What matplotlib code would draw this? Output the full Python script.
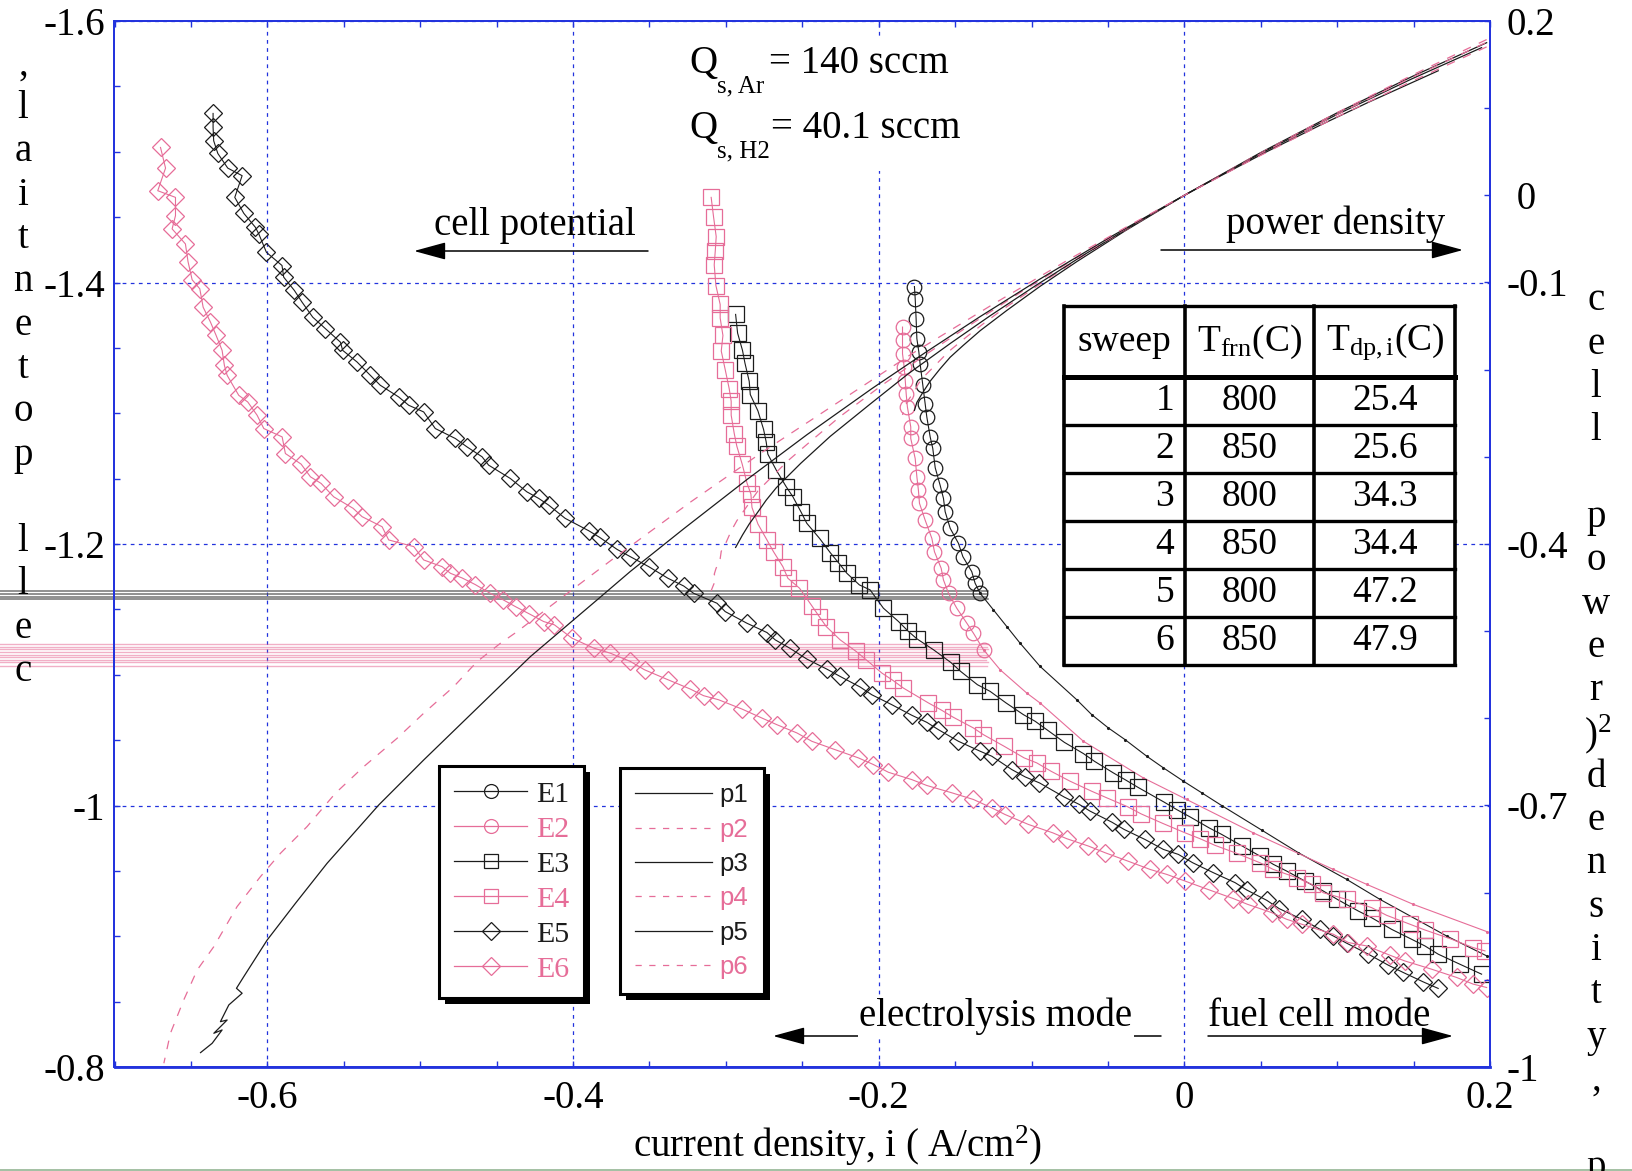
import numpy as np
import matplotlib
matplotlib.use('Agg')
import matplotlib.pyplot as plt
from matplotlib.lines import Line2D
from matplotlib.patches import Rectangle
from matplotlib.transforms import IdentityTransform

plt.rcParams['font.family'] = ['Liberation Serif', 'DejaVu Serif']
plt.rcParams['mathtext.fontset'] = 'custom'
plt.rcParams['mathtext.rm'] = 'Liberation Serif'
plt.rcParams['mathtext.it'] = 'Liberation Serif:italic'
plt.rcParams['mathtext.bf'] = 'Liberation Serif:bold'

# ---------------- data ----------------
x_ticks = [-0.6, -0.4, -0.2, 0.0, 0.2]
x_tick_labels = ['-0.6', '-0.4', '-0.2', '0', '0.2']
left_ticks = [-1.6, -1.4, -1.2, -1.0, -0.8]
left_tick_labels = ['-1.6', '-1.4', '-1.2', '-1', '-0.8']
right_ticks = [0.2, 0.0, -0.1, -0.4, -0.7, -1.0]
right_tick_labels = ['0.2', ' 0', '-0.1', '-0.4', '-0.7', '-1']

e1_i = [-0.1766, -0.1761, -0.1755, -0.1750, -0.1737, -0.1729, -0.1711, -0.1696, -0.1685, -0.1663, -0.1646,
        -0.1630, -0.1598, -0.1576, -0.1565, -0.1532, -0.1478, -0.1449, -0.1391, -0.1369, -0.1336]
e1_v = [-1.3969, -1.3876, -1.3723, -1.3570, -1.3468, -1.3379, -1.3214, -1.3074, -1.2972, -1.2819, -1.2731,
        -1.2583, -1.2450, -1.2349, -1.2247, -1.2120, -1.2005, -1.1903, -1.1789, -1.1700, -1.1623]
e1_tail_i = [-0.1336, -0.1249, -0.1162, -0.1075, -0.0944, -0.0704, -0.0606, -0.0497, -0.0388, -0.0246, -0.0137,
             -0.0006, 0.0114, 0.0244, 0.0506, 0.0746, 0.1062, 0.1280, 0.1716, 0.1978]
e1_tail_v = [-1.1623, -1.1496, -1.1369, -1.1242, -1.1064, -1.0809, -1.0695, -1.0593, -1.0504, -1.0377, -1.0288,
             -1.0186, -1.0097, -1.0000, -0.9812, -0.9639, -0.9435, -0.9282, -0.9002, -0.8850]

e2_i = [-0.1844, -0.1844, -0.1844, -0.1833, -0.1826, -0.1820, -0.1812, -0.1790, -0.1790, -0.1761, -0.1750, -0.1740,
        -0.1733, -0.1696, -0.1652, -0.1635, -0.1591, -0.1576, -0.1543, -0.1489, -0.1423, -0.1380, -0.1314]
e2_v = [-1.3659, -1.3557, -1.3456, -1.3353, -1.3250, -1.3150, -1.3048, -1.2895, -1.2807, -1.2654, -1.2514, -1.2412,
        -1.2311, -1.2183, -1.2043, -1.1941, -1.1814, -1.1725, -1.1623, -1.1509, -1.1394, -1.1318, -1.1191]
e2_tail_i = [-0.1314, -0.1205, -0.1031, -0.0944, -0.0660, -0.0268, 0.0015, 0.0451, 0.0975, 0.1193, 0.1498, 0.1978]
e2_tail_v = [-1.1191, -1.1038, -1.0860, -1.0784, -1.0491, -1.0211, -1.0046, -0.9791, -0.9511, -0.9397, -0.9244, -0.9036]

e3_i = [-0.2936, -0.2923, -0.2891, -0.2875, -0.2847, -0.2840, -0.2790, -0.2753, -0.2736, -0.2725, -0.2670, -0.2605,
        -0.2561, -0.2509, -0.2470, -0.2387, -0.2317, -0.2263, -0.2208, -0.2126, -0.2056,
        -0.1969, -0.1870, -0.1805, -0.1750, -0.1641, -0.1528, -0.1463, -0.1354, -0.1271, -0.1166, -0.1053, -0.0976,
        -0.0894, -0.0785, -0.0660, -0.0588, -0.0464, -0.0381, -0.0305, -0.0131, -0.0050, 0.0037, 0.0162, 0.0244,
        0.0379, 0.0495, 0.0582, 0.0669, 0.0789, 0.0909, 0.1001, 0.1138, 0.1225, 0.1356, 0.1487, 0.1574, 0.1661,
        0.1803, 0.1945]
e3_v = [-1.3756, -1.3613, -1.3481, -1.3384, -1.3244, -1.3143, -1.3018, -1.2876, -1.2781, -1.2687, -1.2565, -1.2438,
        -1.2361, -1.2247, -1.2158, -1.2043, -1.1934, -1.1857, -1.1776, -1.1687, -1.1649,
        -1.1509, -1.1407, -1.1331, -1.1275, -1.1191, -1.1094, -1.1025, -1.0924, -1.0873, -1.0784, -1.0695, -1.0644,
        -1.0575, -1.0483, -1.0397, -1.0338, -1.0249, -1.0193, -1.0140, -1.0025, -0.9969, -0.9913, -0.9829, -0.9779,
        -0.9690, -0.9613, -0.9550, -0.9499, -0.9422, -0.9346, -0.9282, -0.9193, -0.9142, -0.9053, -0.8977, -0.8926,
        -0.8863, -0.8786, -0.8710]

e4_i = [-0.3096, -0.3080, -0.3063, -0.3069, -0.3076, -0.3065, -0.3037, -0.3037, -0.3019, -0.3030, -0.3004, -0.2978,
        -0.2965, -0.2965, -0.2945, -0.2928, -0.2893, -0.2862, -0.2836, -0.2829, -0.2790, -0.2731, -0.2688, -0.2627,
        -0.2594, -0.2518,
        -0.2437, -0.2389, -0.2343, -0.2252, -0.2147, -0.2082, -0.1979, -0.1907, -0.1838, -0.1674, -0.1587, -0.1515,
        -0.1380, -0.1315, -0.1179, -0.1048, -0.0966,
        -0.0872, -0.0748, -0.0606, -0.0508, -0.0370, -0.0283, -0.0141, 0.0005, 0.0103, 0.0201, 0.0343, 0.0495,
        0.0582, 0.0735, 0.0833, 0.0909, 0.1062, 0.1225, 0.1324, 0.1476, 0.1574, 0.1738, 0.1890, 0.1967]
e4_v = [-1.4651, -1.4499, -1.4351, -1.4244, -1.4135, -1.3977, -1.3832, -1.3728, -1.3595, -1.3476, -1.3333, -1.3188,
        -1.3092, -1.2985, -1.2845, -1.2748, -1.2611, -1.2468, -1.2382, -1.2280, -1.2153, -1.2031, -1.1941, -1.1827,
        -1.1738, -1.1662,
        -1.1527, -1.1445, -1.1369, -1.1267, -1.1178, -1.1115, -1.1013, -1.0957, -1.0898, -1.0784, -1.0728, -1.0677,
        -1.0593, -1.0542, -1.0453, -1.0364, -1.0326,
        -1.0262, -1.0186, -1.0109, -1.0059, -0.9990, -0.9936, -0.9863, -0.9791, -0.9746, -0.9695, -0.9634, -0.9562,
        -0.9511, -0.9448, -0.9397, -0.9333, -0.9282, -0.9219, -0.9160, -0.9092, -0.9048, -0.8982, -0.8913, -0.8888]

e5_i = [-0.6355, -0.6355, -0.6351, -0.6324, -0.6259, -0.6165, -0.6213, -0.6154, -0.6078, -0.6056, -0.6006, -0.5904,
        -0.5893, -0.5823, -0.5773, -0.5703, -0.5620, -0.5522, -0.5507, -0.5413, -0.5326, -0.5261, -0.5141, -0.5075,
        -0.4977, -0.4901, -0.4770, -0.4694, -0.4595, -0.4552, -0.4410, -0.4302, -0.4225, -0.4160, -0.4051,
        -0.3898, -0.3826, -0.3712, -0.3625, -0.3505, -0.3379, -0.3276, -0.3211, -0.3058, -0.3004, -0.2862, -0.2731,
        -0.2677, -0.2583, -0.2470, -0.2339, -0.2252, -0.2121, -0.2045, -0.1914, -0.1783, -0.1685, -0.1609, -0.1478,
        -0.1336, -0.1260,
        -0.1129, -0.1042, -0.0948, -0.0785, -0.0687, -0.0617, -0.0475, -0.0394, -0.0257, -0.0137, -0.0039, 0.0055,
        0.0190, 0.0332, 0.0408, 0.0539, 0.0621, 0.0768, 0.0888, 0.0975, 0.1062, 0.1204, 0.1334, 0.1432, 0.1563, 0.1661]
e5_v = [-1.5293, -1.5186, -1.5084, -1.4987, -1.4875, -1.4817, -1.4651, -1.4529, -1.4422, -1.4372, -1.4231, -1.4130,
        -1.4041, -1.3939, -1.3850, -1.3735, -1.3647, -1.3544, -1.3481, -1.3392, -1.3290, -1.3214, -1.3125, -1.3061,
        -1.3010, -1.2883, -1.2807, -1.2743, -1.2667, -1.2603, -1.2501, -1.2399, -1.2349, -1.2298, -1.2196,
        -1.2102, -1.2051, -1.1959, -1.1903, -1.1827, -1.1738, -1.1679, -1.1623, -1.1547, -1.1483, -1.1394, -1.1323,
        -1.1267, -1.1204, -1.1120, -1.1043, -1.0987, -1.0906, -1.0847, -1.0771, -1.0690, -1.0636, -1.0580, -1.0491,
        -1.0415, -1.0377,
        -1.0275, -1.0219, -1.0173, -1.0064, -1.0008, -0.9957, -0.9873, -0.9817, -0.9740, -0.9664, -0.9626, -0.9562,
        -0.9486, -0.9410, -0.9354, -0.9275, -0.9211, -0.9130, -0.9053, -0.9002, -0.8947, -0.8863, -0.8779, -0.8723,
        -0.8651, -0.8601]

e6_i = [-0.6699, -0.6666, -0.6717, -0.6601, -0.6601, -0.6623, -0.6536, -0.6519, -0.6492, -0.6442, -0.6420, -0.6372,
        -0.6335, -0.6296, -0.6281, -0.6263, -0.6187, -0.6128, -0.6067, -0.6023, -0.5903, -0.5882, -0.5779, -0.5718,
        -0.5648, -0.5566, -0.5439, -0.5380, -0.5249, -0.5206, -0.5042, -0.4977, -0.4857, -0.4802,
        -0.4725, -0.4640, -0.4545, -0.4460, -0.4375, -0.4285,
        -0.4192, -0.4122, -0.4007, -0.3865, -0.3756, -0.3625, -0.3532, -0.3379, -0.3233, -0.3146, -0.3048, -0.2895,
        -0.2764, -0.2666, -0.2535, -0.2437, -0.2285, -0.2132, -0.2034, -0.1936, -0.1783, -0.1685, -0.1521, -0.1380,
        -0.1260,
        -0.1173, -0.1020, -0.0861, -0.0769, -0.0628, -0.0519, -0.0370, -0.0224, -0.0115, 0.0005, 0.0164, 0.0321,
        0.0414, 0.0571, 0.0669, 0.0768, 0.0975, 0.1073, 0.1193, 0.1345, 0.1443, 0.1618, 0.1781, 0.1890, 0.1978]
e6_v = [-1.5033, -1.4875, -1.4702, -1.4651, -1.4511, -1.4410, -1.4295, -1.4160, -1.4021, -1.3952, -1.3811, -1.3697,
        -1.3595, -1.3481, -1.3366, -1.3290, -1.3137, -1.3086, -1.2985, -1.2883, -1.2819, -1.2692, -1.2611, -1.2514,
        -1.2463, -1.2361, -1.2273, -1.2209, -1.2132, -1.2031, -1.1980, -1.1878, -1.1827, -1.1776,
        -1.1740, -1.1690, -1.1625, -1.1575, -1.1520, -1.1465,
        -1.1407, -1.1382, -1.1280, -1.1204, -1.1165, -1.1102, -1.1038, -1.0962, -1.0891, -1.0840, -1.0809, -1.0738,
        -1.0669, -1.0618, -1.0555, -1.0491, -1.0427, -1.0364, -1.0313, -1.0254, -1.0198, -1.0153, -1.0097, -1.0046,
        -0.9982,
        -0.9931, -0.9855, -0.9791, -0.9746, -0.9690, -0.9639, -0.9575, -0.9511, -0.9473, -0.9422, -0.9354, -0.9288,
        -0.9244, -0.9181, -0.9130, -0.9092, -0.9015, -0.8952, -0.8926, -0.8855, -0.8811, -0.8748, -0.8685, -0.8634,
        -0.8608]

p1_i = [0.1978, 0.15, 0.1, 0.05, 0.0, -0.0388, -0.0704, -0.0944, -0.1162, -0.1336, -0.1449, -0.1532, -0.1598,
        -0.1663, -0.1711, -0.1750, -0.1766]
p1_v = [0.1751, 0.1371, 0.0947, 0.0491, 0.0, -0.0408, -0.0761, -0.1044, -0.1321, -0.1553, -0.1725, -0.1857, -0.1990,
        -0.2132, -0.2261, -0.2375, -0.2467]
p2_i = [0.1978, 0.1498, 0.0975, 0.0451, 0.0015, -0.0268, -0.0660, -0.0944, -0.1205, -0.1314, -0.1423, -0.1543,
        -0.1591, -0.1652, -0.1696, -0.1740, -0.1761, -0.1790, -0.1812, -0.1833, -0.1844]
p2_v = [0.1787, 0.1385, 0.0927, 0.0442, 0.0015, -0.0274, -0.0692, -0.1018, -0.1330, -0.1471, -0.1621, -0.1793,
        -0.1880, -0.1989, -0.2066, -0.2160, -0.2228, -0.2308, -0.2364, -0.2448, -0.2519]
p3_i = [0.1945, 0.1487, 0.1001, 0.0495, 0.0037, -0.0305, -0.0660, -0.0976, -0.1271, -0.1528, -0.1805, -0.2056,
        -0.2317, -0.2509, -0.2605, -0.2670, -0.2736, -0.2790, -0.2847, -0.2891, -0.2936]
p3_v = [0.1694, 0.1335, 0.0929, 0.0476, 0.0037, -0.0309, -0.0686, -0.1039, -0.1382, -0.1695, -0.2045, -0.2395,
        -0.2765, -0.3073, -0.3240, -0.3355, -0.3497, -0.3632, -0.3771, -0.3897, -0.4039]
p4_i = [0.1967, 0.1476, 0.0909, 0.0495, 0.0005, -0.0370, -0.0748, -0.1048, -0.1380, -0.1674, -0.1979, -0.2252,
        -0.2437, -0.2594, -0.2688, -0.2790, -0.2862, -0.2928, -0.2965, -0.3004, -0.3030, -0.3037, -0.3065, -0.3076,
        -0.3063, -0.3080, -0.3096]
p4_v = [0.1748, 0.1342, 0.0848, 0.0473, 0.0005, -0.0370, -0.0762, -0.1086, -0.1462, -0.1805, -0.2179, -0.2537,
        -0.2809, -0.3045, -0.3210, -0.3391, -0.3568, -0.3733, -0.3850, -0.4005, -0.4083, -0.4169, -0.4284, -0.4348,
        -0.4396, -0.4466, -0.4536]
p5_i = [0.1661, 0.1204, 0.0888, 0.0539, 0.0190, -0.0039, -0.0475, -0.0948, -0.1336, -0.1685, -0.2045, -0.2470,
        -0.2862, -0.3276, -0.3625, -0.3843, -0.4279, -0.4628, -0.4977, -0.5271, -0.5609, -0.5816, -0.6001, -0.6154,
        -0.6202, -0.6165, -0.6252, -0.6307, -0.6263, -0.6350, -0.6296, -0.6361, -0.6437]
p5_v = [0.1429, 0.1067, 0.0804, 0.0500, 0.0180, -0.0038, -0.0469, -0.0964, -0.1391, -0.1792, -0.2218, -0.2747,
        -0.3261, -0.3826, -0.4315, -0.4642, -0.5292, -0.5885, -0.6478, -0.6994, -0.7663, -0.8122, -0.8543, -0.8963,
        -0.9097, -0.9154, -0.9288, -0.9480, -0.9461, -0.9613, -0.9575, -0.9728, -0.9835]
p6_i = [0.1978, 0.1443, 0.0975, 0.0414, 0.0005, -0.0370, -0.0769, -0.1260, -0.1783, -0.2285, -0.2764, -0.3233,
        -0.3756, -0.4138, -0.4366, -0.4475, -0.4628, -0.4781, -0.4977, -0.5151, -0.5369, -0.5555, -0.5740, -0.5914,
        -0.6045, -0.6198, -0.6350, -0.6459, -0.6547, -0.6634, -0.6677]
p6_v = [0.1703, 0.1271, 0.0879, 0.0383, 0.0005, -0.0354, -0.0749, -0.1258, -0.1818, -0.2397, -0.2949, -0.3521,
        -0.4194, -0.4700, -0.5006, -0.5139, -0.5350, -0.5637, -0.5942, -0.6229, -0.6554, -0.6860, -0.7242, -0.7548,
        -0.7816, -0.8160, -0.8619, -0.8887, -0.9231, -0.9613, -0.9957]

# stray horizontal traces (cell potential levels) running off the left edge
trace_start_i = -0.80
gray_trace_v = [-1.1644, -1.1620, -1.1598, -1.1578]
gray_trace_end_i = [-0.1282, -0.1290, -0.1300, -0.1282]
pink_trace_v = [-1.1237, -1.1216, -1.1196, -1.1176, -1.1153, -1.1135, -1.1115, -1.1094, -1.1069]
pink_trace_end_i = [-0.1285, -0.1290, -0.1282, -0.1295, -0.1285, -0.1290, -0.1300, -0.1285, -0.1290]

sweeps = ['1', '2', '3', '4', '5', '6']
t_frn = ['800', '850', '800', '850', '800', '850']
t_dp = ['25.4', '25.6', '34.3', '34.4', '47.2', '47.9']
e_labels = ['E1', 'E2', 'E3', 'E4', 'E5', 'E6']
p_labels = ['p1', 'p2', 'p3', 'p4', 'p5', 'p6']

# ---------------- styling ----------------
BLACK = '#1c1c1c'
PINK = '#e66d98'
BLUE = '#2233dd'
FS_TICK = 28
FS_TXT = 28

W, H = 1633, 1171
fig = plt.figure(figsize=(W / 100, H / 100), dpi=100)
AL, AR, AB, AT = 114.5, 1490.0, 1067.0, 21.0
ax = fig.add_axes([AL / W, 1 - AB / H, (AR - AL) / W, (AB - AT) / H])
ax2 = ax.twinx()

def axf(px, py):
    return (px - AL) / (AR - AL), (AB - py) / (AB - AT)

ax.set_xlim(-0.7, 0.2)
ax.set_ylim(-0.8, -1.6)
ax2.set_ylim(-1.0, 0.2)
ax.set_axisbelow(True)

# grid
ax.grid(True, which='major', color=BLUE, linestyle=(0, (3, 3.5)), lw=0.9)

# E curves
mk = dict(mfc='none', lw=0.8, mew=0.9)
ax.plot(e1_i, e1_v, color=BLACK, marker='o', ms=10.5, **mk)
ax.plot(e1_tail_i, e1_tail_v, color=BLACK, lw=0.8, marker='.', ms=2.5)
ax.plot(e2_i, e2_v, color=PINK, marker='o', ms=10.5, **mk)
ax.plot(e2_tail_i, e2_tail_v, color=PINK, lw=0.8, marker='.', ms=2.5)
ax.plot(e3_i, e3_v, color=BLACK, marker='s', ms=11, **mk)
ax.plot(e4_i, e4_v, color=PINK, marker='s', ms=11, **mk)
ax.plot(e5_i, e5_v, color=BLACK, marker='D', ms=9.5, **mk)
ax.plot(e6_i, e6_v, color=PINK, marker='D', ms=9.5, **mk)

for v, xe in zip(gray_trace_v, gray_trace_end_i):
    ax.plot([trace_start_i, xe], [v, v], color='#505050', lw=1.1, alpha=0.8, clip_on=False, zorder=1.8)
for v, xe in zip(pink_trace_v, pink_trace_end_i):
    ax.plot([trace_start_i, xe], [v, v], color=PINK, lw=1.0, alpha=0.55, clip_on=False, zorder=1.8)

# white block behind the flow-rate text
x0, y0 = axf(677, 171)
x1, _ = axf(969, 171)
ax.add_patch(Rectangle((x0, y0), x1 - x0, 0.985 - y0, transform=ax.transAxes,
                       facecolor='white', edgecolor='none', zorder=1))

# power density curves
ax2.plot(p1_i, p1_v, color=BLACK, lw=0.9)
ax2.plot(p2_i, p2_v, color=PINK, lw=0.9, dashes=(7, 7))
ax2.plot(p3_i, p3_v, color=BLACK, lw=0.9)
ax2.plot(p4_i, p4_v, color=PINK, lw=0.9, dashes=(7, 7))
ax2.plot(p5_i, p5_v, color=BLACK, lw=0.9)
ax2.plot(p6_i, p6_v, color=PINK, lw=0.9, dashes=(7, 7))

# ticks
ax.set_xticks(x_ticks)
ax.set_xticklabels(x_tick_labels)
ax.set_xticks(np.round(np.arange(-0.7, 0.2001, 0.05), 3), minor=True)
ax.set_yticks(left_ticks)
ax.set_yticklabels(left_tick_labels)
ax.set_yticks(np.round(np.arange(-1.6, -0.7999, 0.05), 3), minor=True)
ax.tick_params(axis='x', which='both', direction='in', length=4.5, width=1, color=BLUE,
               top=True, bottom=True, labelsize=FS_TICK, pad=9)
ax.tick_params(axis='y', which='both', direction='in', length=4.5, width=1, color=BLUE,
               left=True, right=False, labelsize=FS_TICK, pad=7)
ax2.set_yticks(right_ticks)
ax2.set_yticklabels(right_tick_labels)
ax2.set_yticks(np.round(np.arange(-1.0, 0.2001, 0.1), 3), minor=True)
ax2.tick_params(axis='y', which='both', direction='in', length=4.5, width=1, color=BLUE,
                labelsize=FS_TICK, pad=12)
for a in (ax, ax2):
    for s in a.spines.values():
        s.set_color(BLUE)
        s.set_linewidth(1.3)
ax.spines['bottom'].set_linewidth(2.0)

# flow rate text: main text, subscript, rest
def sub_text(x_q, y_base, sub, x_sub, y_sub, rest, x_rest):
    for xx, yy, s, fs in ((x_q, y_base, 'Q', FS_TXT), (x_sub, y_sub, sub, 18), (x_rest, y_base, rest, FS_TXT)):
        tx, ty = axf(xx, yy)
        ax2.text(tx, ty, s, transform=ax2.transAxes, fontsize=fs, ha='left', va='baseline', zorder=8)

sub_text(689.5, 73, 's, Ar', 716.6, 92, '= 140 sccm', 768.6)
sub_text(689.5, 138.5, 's, H2', 716.6, 157, '= 40.1 sccm', 770.7)

# annotations with arrows
arrow_kw = dict(arrowstyle='-|>,head_length=1.1,head_width=0.3', color='black', lw=1.1,
                shrinkA=0, shrinkB=0, mutation_scale=18)
def arrow(xa, xb, y):
    ax2.annotate('', xy=axf(xb, y), xytext=axf(xa, y), xycoords='axes fraction',
                 arrowprops=arrow_kw, zorder=6)

tx, ty = axf(535, 235)
ax2.text(tx, ty, 'cell potential', transform=ax2.transAxes, fontsize=FS_TXT, ha='center', va='baseline', zorder=8)
arrow(648, 414, 251)
tx, ty = axf(1336, 234)
ax2.text(tx, ty, 'power density', transform=ax2.transAxes, fontsize=FS_TXT, ha='center', va='baseline', zorder=8)
arrow(1161, 1463, 250)
tx, ty = axf(996, 1026)
ax2.text(tx, ty, 'electrolysis mode', transform=ax2.transAxes, fontsize=FS_TXT, ha='center', va='baseline',
         zorder=8, bbox=dict(facecolor='white', edgecolor='none', pad=1.0))
arrow(1161, 773, 1036)
tx, ty = axf(1319, 1026)
ax2.text(tx, ty, 'fuel cell mode', transform=ax2.transAxes, fontsize=FS_TXT, ha='center', va='baseline', zorder=8)
arrow(1208, 1453, 1036)

# table
cx = [axf(v, 0)[0] for v in (1064.4, 1185.2, 1314.4, 1455.0)]
ytop = axf(0, 306.2)[1]
yhead = axf(0, 377.0)[1]
ybot = axf(0, 664.5)[1]
rowh = (yhead - ybot) / len(sweeps)
ax2.add_patch(Rectangle((cx[0], ybot), cx[3] - cx[0], ytop - ybot, transform=ax2.transAxes,
                        facecolor='white', edgecolor='none', zorder=6))
tl = dict(transform=ax2.transAxes, color='black', zorder=7, solid_capstyle='projecting')
for yy in [ytop, ybot] + [ybot + k * rowh for k in range(1, len(sweeps))]:
    ax2.add_line(Line2D([cx[0], cx[3]], [yy, yy], lw=2.4, **tl))
ax2.add_line(Line2D([cx[0], cx[3]], [yhead, yhead], lw=3.6, **tl))
for xx in cx:
    ax2.add_line(Line2D([xx, xx], [ybot, ytop], lw=2.6, **tl))
FS_TAB = 27
hy = (ytop + yhead) / 2
ax2.text((cx[0] + cx[1]) / 2, hy, 'sweep', transform=ax2.transAxes, fontsize=FS_TAB, ha='center', va='center', zorder=8)
ax2.text((cx[1] + cx[2]) / 2, hy, r'T$_{\rm frn}$(C)', transform=ax2.transAxes, fontsize=FS_TAB, ha='center', va='center', zorder=8)
ax2.text((cx[2] + cx[3]) / 2, hy, r'T$_{\rm dp,i}$(C)', transform=ax2.transAxes, fontsize=FS_TAB, ha='center', va='center', zorder=8)
for k, (s, tf, td) in enumerate(zip(sweeps, t_frn, t_dp)):
    yc = yhead - (k + 0.5) * rowh
    ax2.text(cx[1] - 0.008, yc, s, transform=ax2.transAxes, fontsize=FS_TAB, ha='right', va='center', zorder=8)
    ax2.text((cx[1] + cx[2]) / 2, yc, tf, transform=ax2.transAxes, fontsize=FS_TAB, ha='center', va='center', zorder=8)
    ax2.text((cx[2] + cx[3]) / 2, yc, td, transform=ax2.transAxes, fontsize=FS_TAB, ha='center', va='center', zorder=8)

# legends
e_colors = [BLACK, PINK, BLACK, PINK, BLACK, PINK]
e_markers = ['o', 'o', 's', 's', 'D', 'D']
e_ms = [10, 10, 10, 10, 9, 9]
h1 = [Line2D([], [], color=c, marker=m, ms=s, mfc='none', lw=0.9, mew=0.9)
      for c, m, s in zip(e_colors, e_markers, e_ms)]
leg1 = ax2.legend(h1, e_labels, loc='upper left', bbox_to_anchor=axf(439, 766), bbox_transform=ax2.transAxes,
                  borderaxespad=0, fontsize=21.5, handlelength=2.45, handletextpad=0.3, borderpad=0.5,
                  labelspacing=0.27, fancybox=False, framealpha=1, edgecolor='black')
leg1.get_frame().set_linewidth(2.2)
for t, c in zip(leg1.get_texts(), e_colors):
    t.set_color(c)
ax2.add_artist(leg1)
h2 = []
for c in e_colors:
    if c == PINK:
        h2.append(Line2D([], [], color=c, lw=0.9, dashes=(5, 6)))
    else:
        h2.append(Line2D([], [], color=c, lw=0.9))
leg2 = ax2.legend(h2, p_labels, loc='upper left', bbox_to_anchor=axf(620, 768), bbox_transform=ax2.transAxes,
                  borderaxespad=0, prop={'family': 'Liberation Sans', 'size': 18.5}, handlelength=3.0,
                  handletextpad=0.28, borderpad=0.6, labelspacing=0.40, fancybox=False, framealpha=1,
                  edgecolor='black')
leg2.get_frame().set_linewidth(2.2)
for t, c in zip(leg2.get_texts(), e_colors):
    t.set_color(c)

# axis labels (stacked characters)
left_label = 'cell potential,'
for k, ch in enumerate(left_label):
    fig.text(23 / W, 1 - (681 - 43.3 * k) / H, ch, fontsize=FS_TICK, ha='center', va='baseline')
right_label = 'cell power density, p'
for k, ch in enumerate(right_label):
    fig.text(1596 / W, 1 - (310.5 + 43.3 * k) / H, ch, fontsize=FS_TICK, ha='center', va='baseline')
fig.text(1584 / W, 1 - 745 / H, r')$^2$', fontsize=FS_TICK, ha='left', va='baseline')
fig.text(838 / W, 1 - 1157 / H, r'current density, i ( A/cm$^2$)', fontsize=FS_TICK, ha='center', va='baseline')
fig.add_artist(Line2D([0, 1], [0.8 / H, 0.8 / H], color='#93b593', lw=1.2, transform=fig.transFigure))

# legend drop shadows
fig.canvas.draw()
rend = fig.canvas.get_renderer()
for leg in (leg1, leg2):
    bb = leg.get_frame().get_window_extent(rend)
    ax2.add_patch(Rectangle((bb.x0 + 6, bb.y0 - 6), bb.width, bb.height, transform=IdentityTransform(),
                            facecolor='black', edgecolor='none', zorder=4.5))

ax.set_xlim(-0.7, 0.2)
ax.set_ylim(-0.8, -1.6)
ax2.set_ylim(-1.0, 0.2)
fig.savefig('out.png', dpi=100)
